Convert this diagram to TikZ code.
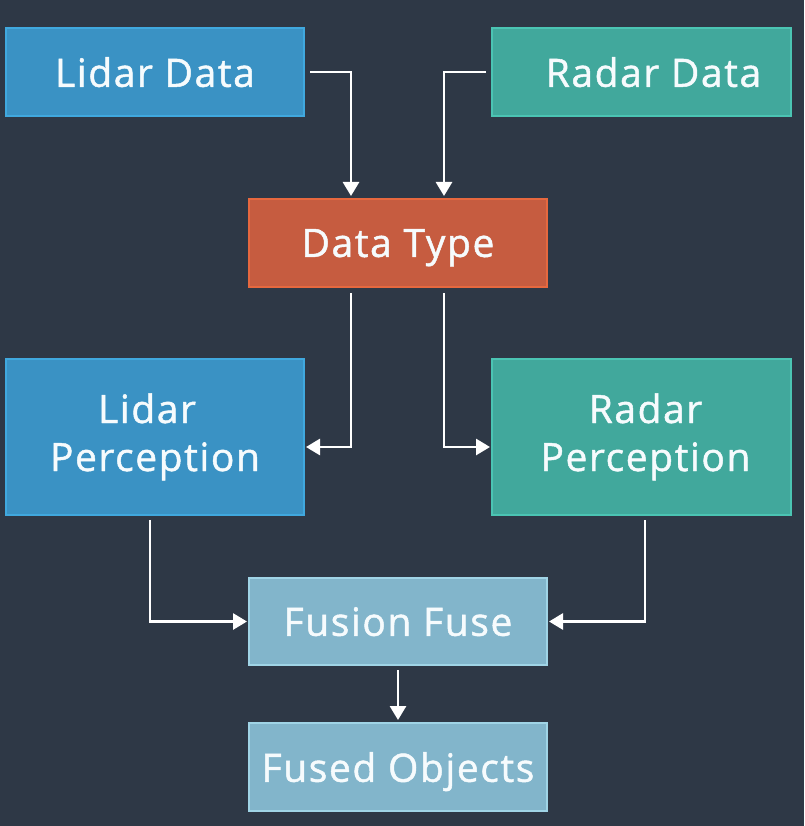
\documentclass[tikz,border=0pt]{standalone}
\usepackage{fontspec}
\setmainfont{Open Sans}[LetterSpace=4,FakeBold=1.2]
\usetikzlibrary{arrows.meta}
\definecolor{bgc}{HTML}{2E3846}
\definecolor{lidfill}{HTML}{3A92C4}
\definecolor{lidline}{HTML}{40A8DE}
\definecolor{radfill}{HTML}{41A89C}
\definecolor{radline}{HTML}{4BC4B3}
\definecolor{dtfill}{HTML}{C65C40}
\definecolor{dtline}{HTML}{E6683F}
\definecolor{fufill}{HTML}{82B5CB}
\definecolor{fuline}{HTML}{A0D4E6}
\definecolor{txt}{HTML}{F6FBFD}
\newcommand{\twoline}[2]{\raisebox{6pt}{\begin{tabular}{@{}c@{}}#1\\[-2pt]#2\end{tabular}}}
\tikzset{
  box/.style={rectangle, line width=2pt, minimum width=298pt, minimum height=88pt,
    text=txt, font=\fontsize{39}{50}\selectfont, align=center, inner sep=0pt},
  oneline/.style={text depth=0pt},
  lidbox/.style={box, fill=lidfill, draw=lidline},
  radbox/.style={box, fill=radfill, draw=radline},
  dtbox/.style={box, fill=dtfill, draw=dtline},
  fubox/.style={box, fill=fufill, draw=fuline},
  arr/.style={draw=white, line width=2.8pt, -{Triangle[width=16pt,length=14pt]}}
}
\begin{document}
\begin{tikzpicture}[x=1pt,y=-1pt]
\fill[bgc] (0,0) rectangle (804,826);
\useasboundingbox (0,0) rectangle (804,826);
\node[lidbox, oneline] (ld) at (155,72) {Lidar Data};
\node[radbox, oneline, minimum width=299pt] (rd) at (641.5,72) {\hspace*{24pt}Radar Data};
\node[dtbox, oneline] (dt) at (398,243) {Data Type};
\node[lidbox, minimum height=156pt] (lp) at (155,437) {\twoline{\hspace*{-16pt}Lidar}{Perception}};
\node[radbox, minimum width=299pt, minimum height=156pt] (rp) at (641.5,437) {\hspace*{8pt}\twoline{Radar}{Perception}};
\node[fubox, oneline, minimum height=87pt] (ff) at (398,621.5) {Fusion Fuse};
\node[fubox, oneline] (fo) at (398,767) {Fused Objects};
\draw[arr, shorten <=5pt, shorten >=2pt] (ld.east) -| ([xshift=-47pt]dt.north);
\draw[arr, shorten <=5pt, shorten >=2pt] (rd.west) -| ([xshift=46pt]dt.north);
\draw[arr, shorten <=5pt, shorten >=1pt] ([xshift=-47pt]dt.south) |- ([yshift=-10pt]lp.east);
\draw[arr, shorten <=5pt, shorten >=1pt] ([xshift=46pt]dt.south) |- ([yshift=-10pt]rp.west);
\draw[arr, shorten <=4pt, shorten >=1pt] ([xshift=-5pt]lp.south) |- (ff.west);
\draw[arr, shorten <=4pt, shorten >=1pt] ([xshift=3.5pt]rp.south) |- (ff.east);
\draw[arr, shorten <=4pt, shorten >=2pt] (ff.south) -- (fo.north);
\end{tikzpicture}
\end{document}
